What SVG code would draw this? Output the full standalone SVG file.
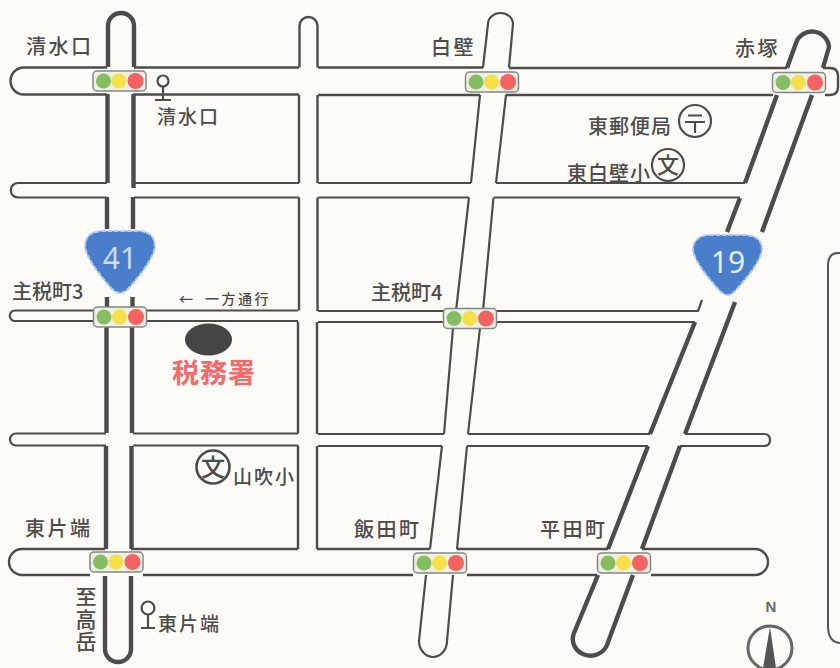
<svg xmlns="http://www.w3.org/2000/svg" width="840" height="668" viewBox="0 0 840 668">
<defs>
<style>
.r{fill:none;stroke:#4c4c4a;stroke-width:2.2;stroke-linejoin:round}
.m{fill:none;stroke:#4c4c4a;stroke-width:2.4;stroke-linejoin:round}
.t{fill:none;stroke:#4c4c4a;stroke-width:4.4;stroke-linejoin:round}
.l{font-family:"Noto Sans CJK JP","Liberation Sans",sans-serif;font-size:20px;fill:#4c4c4a;font-weight:500;letter-spacing:2.500px}
.s{font-size:19px;letter-spacing:2px}
.c{fill:none;stroke:#4c4c4a;stroke-width:2.2}
.g{fill:#4a7ecb;stroke:#b4cfee;stroke-width:2;stroke-dasharray:5 1.500}
.n{font-family:"Noto Sans","Liberation Sans",sans-serif;font-size:30px;text-anchor:middle}
</style>
<g id="sig">
<rect x="-26.500" y="-10" width="53" height="20" rx="4" fill="#f1efe2" stroke="#7f8a8c" stroke-width="1.500"/>
<circle cx="-16" cy="0" r="7.500" fill="#84bd62"/><circle cx="-0.500" cy="0" r="7.500" fill="#f5e04a"/><circle cx="16" cy="0" r="8" fill="#f56262"/>
</g>
</defs>
<rect width="840" height="668" fill="#fdfbf7"/>
<g id="connectors">
<path class="t" d="M108 67V26A13 13 0 0 1 134 26V67M107.500 94V183M133.500 94V188M107 197V229M133 197V229M107 297V307M132.500 297V307M106.500 327V433M132 327V433M106 446V549M131.500 446V549M105 576V649A13 13 0 0 0 131 649V576"/>
<path class="m" d="M107 67.500H24A13.500 13.500 0 0 0 24 94.500H107M134 67.500H299M318 67.500H483M509 68H787M823 68H830Q838 68 838 76V87Q838 95 830 95H825M133 94.500H299M318 95H480M506 95H773"/>
<path class="r" d="M107 183H18A7 7 0 0 0 18 197.500H107M134 183H299M134 197.500H299M318 183H471M318 197.500H469M496 183H745M494 197.500H740"/>
<path class="r" d="M95 310.500H15A5 5 0 0 0 15 321H95M146 310.500H298M146 321H298M318 311H456M318 322H443M483 311H698L702 300M497 322H695"/>
<path class="r" d="M106 433.500H16A6 6 0 0 0 16 445.500H106M133 433.500H298M133 445.500H298M318 434H444M318 446H442M468 434H650M467 446H648M685 434H764Q770 434 770 440Q770 446 764 446H680"/>
<path class="m" d="M105 549H22A13 13 0 0 0 22 575H90M131 549H298M143 575H413M317 549H430M457 549H608M642 549H755A13 13 0 0 1 755 575H651M467 575H597"/>
<path class="m" d="M299.500 67.500V26A9 9 0 0 1 317.500 26V67.500M299 95V183M299 197.500V310.500M298 322V433.500M298 445.500V549M317.500 95V183M317.500 197.500V311M317 322V434M317 446V549"/>
<path class="r" d="M483 67.500L488 24A12.500 11 0 0 1 513 24L509 67.500M480 95L471 183M506 95L496 183M469 197.500L456 311M493.500 197.500L483 311M453 328L444 434M480 328L468 434M442 446L430 549M467 446L457 549M426 575L419 641A14 16 0 0 0 447 641L453 575"/>
<path class="t" d="M787 68L796 43A17 17 0 0 1 829 47L823 68M777 95L745 183M812 95L762 232M740 198L727 232M735 302L685 434M695 322L650 434M648 446L608 549M680 446L642 549M598 575L574 633A17 16 0 0 0 607 645L633 575"/>
</g>
<g id="s1"><use href="#sig" x="119.500" y="81"/></g>
<g id="s2"><use href="#sig" x="492" y="82"/></g>
<g id="s3"><use href="#sig" x="799" y="82.500"/></g>
<g id="s4"><use href="#sig" x="120" y="317"/></g>
<g id="s5"><use href="#sig" x="470" y="318.500"/></g>
<g id="s6"><use href="#sig" x="116.500" y="562"/></g>
<g id="s7"><use href="#sig" x="440" y="563"/></g>
<g id="s8"><use href="#sig" x="624" y="563"/></g>
<g id="r41"><path class="g" d="M101 231H139Q155 232 155 247Q153 261 128 289Q120 297 112 289Q87 261 85 247Q85 232 101 231Z"/><text class="n" x="120" y="269" fill="#c8dcf2">41</text></g>
<g id="r19"><path class="g" d="M709 235H746Q762 236 762 250Q760 264 735 291Q728 299 720 291Q695 264 693 250Q693 236 709 235Z"/><text class="n" x="728" y="273" fill="#e6eef8">19</text></g>
<g id="tax"><ellipse cx="208.500" cy="339.500" rx="23.500" ry="16" fill="#454545"/><text x="214" y="383" text-anchor="middle" class="l" style="font-size:27px;fill:#f26a6a;font-weight:700;letter-spacing:1px">税務署</text></g>
<g id="labels">
<text class="l" x="26" y="54">清水口</text><text class="l s" x="157" y="124">清水口</text>
<text class="l" x="431" y="55">白壁</text><text class="l" x="735" y="56">赤塚</text>
<text class="l" style="letter-spacing:1px" x="588" y="134">東郵便局</text><text class="l" style="letter-spacing:1px" x="567" y="181">東白壁小</text>
<text class="l" style="letter-spacing:0" x="12" y="299">主税町3</text><text class="l" style="letter-spacing:0" x="371" y="300">主税町4</text>
<text class="l" style="font-size:14px;letter-spacing:2.500px" y="304"><tspan x="179">←</tspan><tspan x="205">一方通行</tspan></text>
<text class="l s" x="233" y="484">山吹小</text>
<text class="l" x="25" y="536">東片端</text><text class="l" x="354" y="537">飯田町</text><text class="l" x="540" y="537">平田町</text>
<text class="l s" x="158" y="631">東片端</text>
<text class="l" x="86" y="586" style="writing-mode:vertical-rl;font-size:21px;letter-spacing:1.500px">至高岳</text>
<text x="771" y="612" text-anchor="middle" font-family="Liberation Sans,sans-serif" font-weight="700" font-size="15" fill="#666">N</text>
</g>
<g id="icons">
<circle class="c" cx="163" cy="81" r="5.500"/><path class="c" d="M163 86.500V100M155 100H171"/>
<circle class="c" cx="148" cy="608" r="6.500"/><path class="c" d="M148 614.500V628M141 628H155"/>
<circle class="c" cx="695" cy="121" r="16"/><path class="c" d="M688 115.500H702M685 122H705M695 122V133"/>
<circle class="c" cx="668" cy="165" r="16"/><text x="668" y="173" text-anchor="middle" class="l" style="font-size:22px;letter-spacing:0">文</text>
<circle class="c" cx="213" cy="467" r="16.500" style="stroke-width:2.600"/><text x="213" y="476" text-anchor="middle" class="l" style="font-size:24px;letter-spacing:0">文</text>
<circle cx="770" cy="648" r="22" fill="none" stroke="#666" stroke-width="3"/><path d="M770 627L776 668H763Z" fill="#555"/>
<path d="M840 253H838Q828 253 828 266V626Q828 642 840 643" fill="none" stroke="#555" stroke-width="2"/>
</g>
</svg>
